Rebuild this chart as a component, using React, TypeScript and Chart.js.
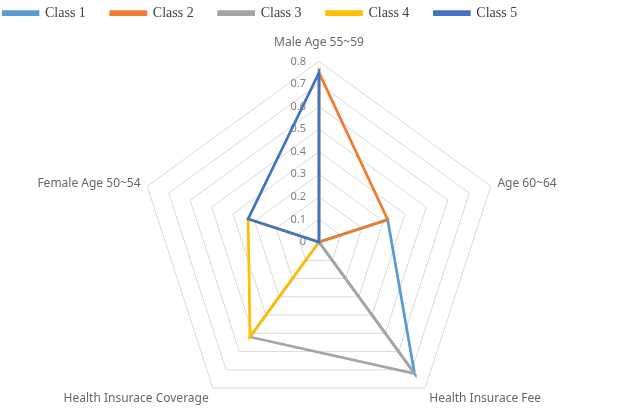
import React, { useEffect, useRef } from 'react';
import { Chart, registerables } from 'chart.js';

Chart.register(...registerables);

const categories = ['Male Age 55~59', 'Age 60~64', 'Health Insurace Fee', 'Health Insurace Coverage', 'Female Age 50~54'];
const seriesNames = ['Class 1', 'Class 2', 'Class 3', 'Class 4', 'Class 5'];
const class1 = [0, 0.32, 0.72, 0, 0];
const class2 = [0.75, 0.32, 0, 0, 0];
const class3 = [0, 0, 0.72, 0.52, 0];
const class4 = [0, 0, 0, 0.52, 0.33];
const class5 = [0.75, 0, 0, 0, 0.33];
const seriesColors = ['#5B9BD5', '#ED7D31', '#A5A5A5', '#FFC000', '#4472C4'];
const axisMin = 0;
const axisMax = 0.8;
const axisStep = 0.1;

const sideTicks = {
  id: 'sideTicks',
  beforeDatasetsDraw(chart: any) {
    const s = chart.scales.r;
    const ctx = chart.ctx;
    ctx.save();
    ctx.font = '11px "Noto Sans"';
    ctx.fillStyle = '#7f7f7f';
    ctx.textAlign = 'right';
    ctx.textBaseline = 'middle';
    s.ticks.forEach((t: any) => {
      const p = s.getPointPositionForValue(0, t.value);
      ctx.fillText(String(t.label), p.x - 13, p.y);
    });
    // axis category labels, placed around the scale's outer ring
    ctx.font = '12px "Noto Sans"';
    ctx.fillStyle = '#666666';
    const labels = s._pointLabels || chart.data.labels;
    labels.forEach((lab: string, i: number) => {
      const p = s.getPointPosition(i, s.drawingArea + 7);
      const deg = Math.round((s.getIndexAngle(i) * 180) / Math.PI) % 360;
      let align: CanvasTextAlign = 'center';
      let base: CanvasTextBaseline = 'middle';
      let y = p.y;
      if (deg === 0) {
        base = 'bottom';
        y = p.y - 6;
      } else if (deg < 90) {
        align = 'left';
      } else if (deg < 180) {
        align = 'left';
        y = p.y + 5;
      } else if (deg < 270) {
        align = 'right';
        y = p.y + 5;
      } else {
        align = 'right';
      }
      ctx.textAlign = align;
      ctx.textBaseline = base;
      ctx.fillText(lab, p.x, y);
    });
    ctx.restore();
  },
};

export default function App() {
  const ref = useRef<HTMLCanvasElement | null>(null);
  useEffect(() => {
    document.body.style.margin = '0';
    document.body.style.overflow = 'hidden';
    document.documentElement.style.overflow = 'hidden';
    const all = [class1, class2, class3, class4, class5];
    const chart = new Chart(ref.current!, {
      type: 'radar',
      data: {
        labels: categories,
        datasets: all.map((d, i) => ({
          label: seriesNames[i],
          data: d,
          borderColor: seriesColors[i],
          backgroundColor: seriesColors[i],
          borderWidth: 2.75,
          pointRadius: 0,
          fill: false,
          order: 5 - i,
          tension: 0,
        })),
      },
      options: {
        animation: false,
        responsive: true,
        maintainAspectRatio: false,
        layout: { padding: { left: -24, right: -22, top: -19, bottom: 0 } },
        plugins: {
          tooltip: { enabled: false },
          legend: {
            position: 'top',
            align: 'start',
            labels: {
              boxWidth: 35,
              boxHeight: 3,
              padding: 25,
              color: '#404040',
              font: { family: '"Liberation Serif", "Times New Roman", serif', size: 14 },
              sort: (a: any, b: any) => a.datasetIndex - b.datasetIndex,
            },
          },
        },
        scales: {
          r: {
            min: axisMin,
            max: axisMax,
            beginAtZero: true,
            ticks: { stepSize: axisStep, display: false },
            grid: { color: '#d9d9d9', lineWidth: 1, circular: false },
            angleLines: { display: false },
            pointLabels: {
              color: 'rgba(0,0,0,0)',
              padding: 7,
              font: { family: '"Noto Sans"', size: 12 },
            },
          },
        },
      },
      plugins: [sideTicks],
    });
    return () => chart.destroy();
  }, []);
  return (
    <div style={{ position: 'fixed', left: 2, top: 0, width: 635, height: 434 }}>
      <canvas ref={ref} />
    </div>
  );
}
